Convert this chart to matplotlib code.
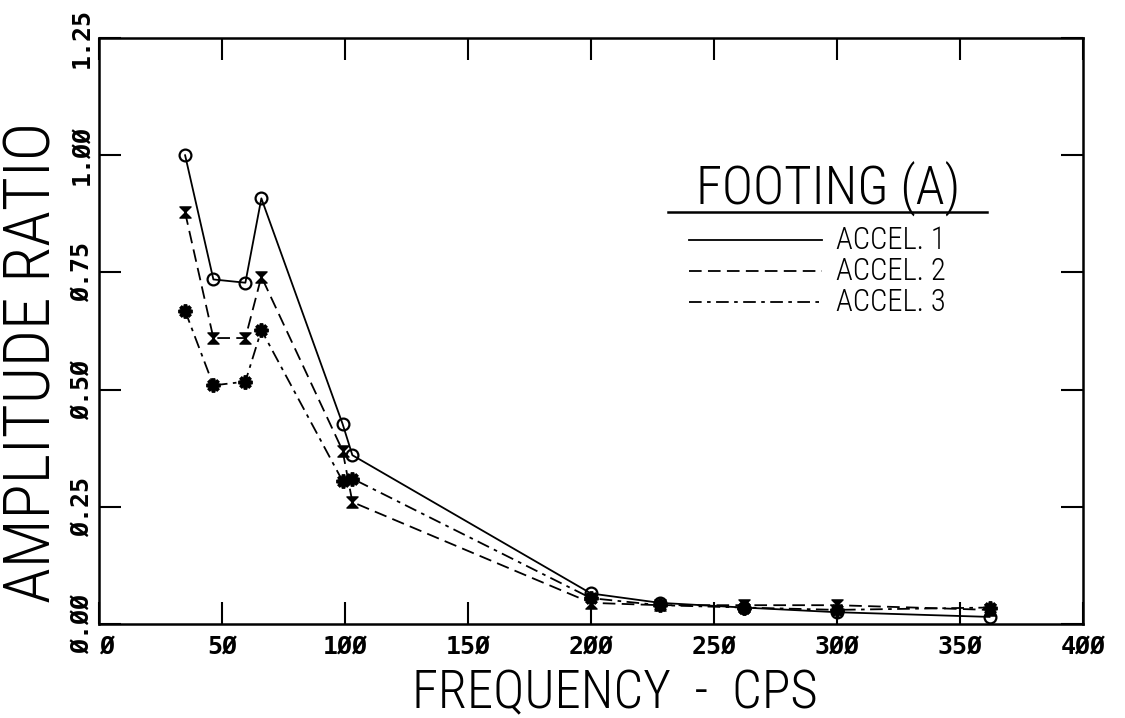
import matplotlib.pyplot as plt
from matplotlib import font_manager
from matplotlib.path import Path
from matplotlib.ticker import FixedLocator, FixedFormatter

# frequency (cps) and amplitude ratio for the three accelerometers
freq = [35, 46.5, 59.5, 66, 99, 103, 200, 228, 262, 300, 362]
accel_1 = [1.00, 0.735, 0.728, 0.908, 0.427, 0.36, 0.065, 0.045, 0.035, 0.025, 0.015]
accel_2 = [0.878, 0.61, 0.61, 0.741, 0.37, 0.26, 0.045, 0.04, 0.04, 0.04, 0.03]
accel_3 = [0.668, 0.509, 0.517, 0.627, 0.305, 0.31, 0.055, 0.04, 0.035, 0.03, 0.035]

x_ticks = [0, 50, 100, 150, 200, 250, 300, 350, 400]
x_labels = ['Ø', '5Ø', '1ØØ', '15Ø', '2ØØ', '25Ø', '3ØØ', '35Ø', '4ØØ']
y_ticks = [0.0, 0.25, 0.5, 0.75, 1.0, 1.25]
y_labels = ['Ø.ØØ', 'Ø.25', 'Ø.5Ø', 'Ø.75', '1.ØØ', '1.25']

series = ['ACCEL. 1', 'ACCEL. 2', 'ACCEL. 3']

# pick a narrow face for the lettering if one is around
installed = {f.name for f in font_manager.fontManager.ttflist}
narrow = 'DejaVu Sans'
for cand in ['Liberation Sans Narrow', 'Roboto Condensed', 'Open Sans Condensed',
             'DejaVu Sans Condensed']:
    if cand in installed:
        narrow = cand
        break

# hourglass marker for accel 2
hourglass = Path([(-1, 1), (1, 1), (-1, -1), (1, -1), (-1, 1)],
                 [Path.MOVETO, Path.LINETO, Path.LINETO, Path.LINETO, Path.CLOSEPOLY])

styles = [
    dict(ls='-', marker='o', ms=8.5, mfc='none', mew=1.6),
    dict(ls=(0, (7, 3.5)), marker=hourglass, ms=8, mfc='black', mew=1.0),
    dict(ls=(0, (7, 3, 2, 3)), marker=(8, 2, 0), ms=10, mew=2.6),
]

thin = dict(family=narrow, weight='light')
mono = dict(family='DejaVu Sans Mono', weight='bold')

fig = plt.figure(figsize=(11.25, 7.18), dpi=100)
ax = fig.add_axes([0.088, 0.131, 0.8747, 0.816])

for vals, st in zip([accel_1, accel_2, accel_3], styles):
    ax.plot(freq, vals, color='black', lw=1.3, **st)

ax.set_xlim(0, 400)
ax.set_ylim(0, 1.25)
for s in ax.spines.values():
    s.set_linewidth(1.8)

ax.xaxis.set_major_locator(FixedLocator(x_ticks))
ax.xaxis.set_major_formatter(FixedFormatter(x_labels))
ax.yaxis.set_major_locator(FixedLocator(y_ticks))
ax.yaxis.set_major_formatter(FixedFormatter(y_labels))
ax.tick_params(direction='in', length=16, width=1.5, top=True, right=True)
ax.tick_params(axis='x', pad=8)
ax.tick_params(axis='y', pad=4)
for lab in ax.get_xticklabels():
    lab.set_fontproperties(dict(mono, size=18))
ax.get_xticklabels()[0].set_ha('left')
for lab in ax.get_yticklabels():
    lab.set_fontproperties(dict(mono, size=18))
    lab.set_rotation(90)
    lab.set_va('center')

fig.text(615 / 1125, 1 - 694 / 718, 'FREQUENCY  -  CPS', ha='center', va='center',
         fontsize=38, **thin)
fig.text(33 / 1125, 1 - 362 / 718, 'AMPLITUDE RATIO', ha='center', va='center',
         rotation=90, fontsize=47, **thin)

# legend block drawn in axes coordinates
ax.text(0.741, 0.742, 'FOOTING (A)', transform=ax.transAxes, ha='center', va='center',
        fontsize=38, **thin)
ax.plot([0.578, 0.902], [0.703, 0.703], transform=ax.transAxes, color='black', lw=1.8)
for i, (name, st) in enumerate(zip(series, styles)):
    y = 0.655 - i * 0.053
    ax.plot([0.600, 0.735], [y, y], transform=ax.transAxes, color='black',
            lw=1.3, ls=st['ls'])
    ax.text(0.749, y, name, transform=ax.transAxes, ha='left', va='center',
            fontsize=22, **thin)

fig.savefig('out.png', dpi=100)
